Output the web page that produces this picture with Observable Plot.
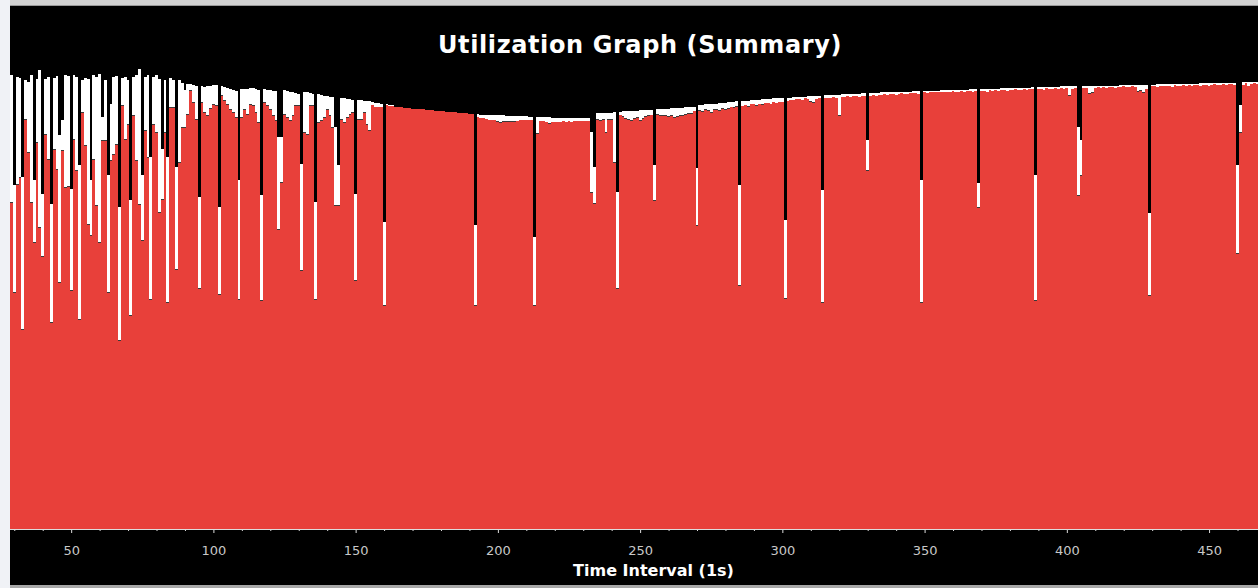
<!DOCTYPE html>
<html><head><meta charset="utf-8">
<script src="https://cdn.jsdelivr.net/npm/d3@7"></script>
<script src="https://cdn.jsdelivr.net/npm/@observablehq/plot@0.6"></script>
<style>
html,body{margin:0;padding:0;overflow:hidden;background:#f0f2f6;width:1258px;height:588px;}
#frame{position:absolute;left:10px;top:0;width:1248px;height:588px;background:#000;overflow:hidden;}
#topband{position:absolute;left:0;top:0;width:1248px;height:5px;background:#d2d2d2;border-bottom:1px solid #9a9a9a;}
#botband{position:absolute;left:0;top:585px;width:1248px;height:3px;background:#a8a8a8;}
#title{position:absolute;left:12px;top:30px;width:1236px;text-align:center;color:#fff;font-family:"DejaVu Sans";font-weight:bold;font-size:24px;line-height:30px;letter-spacing:0.6px;}
#chart{position:absolute;left:0;top:66px;}
</style></head>
<body>
<div id="frame">
  <div id="topband"></div>
  <div id="title">Utilization Graph (Summary)</div>
  <div id="chart"></div>
  <div id="botband"></div>
</div>
<script>
// first time interval (s) of the arrays below; one value per second
const firstSecond = 29;
// top of stacked column (red + white), percent
const totalPct = [
98.7,74.8,98.3,98.0,76.5,97.6,97.2,98.7,75.9,97.8,
99.8,72.8,97.8,98.3,70.7,98.0,98.5,85.7,88.9,98.7,
98.5,73.9,98.7,98.3,79.1,97.6,98.0,97.8,75.9,98.7,
98.3,98.9,89.6,97.6,77.0,92.4,98.3,98.5,70.0,98.0,
98.3,97.6,71.5,98.3,98.7,100.0,77.0,98.3,98.7,80.9,
98.3,98.7,97.8,82.6,97.6,80.9,98.0,97.6,78.7,97.6,
97.0,95.4,96.7,96.7,96.5,96.3,72.2,96.3,96.1,96.3,
96.3,96.5,96.5,70.0,96.3,96.1,95.9,95.7,95.4,95.2,
75.9,95.7,95.7,95.7,95.9,95.9,95.7,95.4,72.6,95.7,
95.4,95.4,95.2,95.2,85.2,85.2,95.4,95.2,95.0,95.0,
94.8,94.6,79.3,95.0,95.0,94.8,94.6,71.1,94.6,94.3,
94.1,94.1,93.9,93.9,87.4,79.1,93.7,93.7,93.5,93.5,
93.3,72.8,93.3,93.3,93.0,93.0,93.0,92.8,92.6,92.6,
92.4,66.7,92.4,92.2,92.2,
91.8,91.7,91.7,91.6,91.6,91.5,91.4,91.4,91.3,91.2,91.2,91.1,91.0,91.0,90.9,90.9,90.8,90.8,90.7,90.7,90.6,90.6,90.5,90.5,90.4,90.4,90.3,90.3,
66.1,
90.2,90.1,90.1,90.0,90.0,90.0,89.9,89.9,89.9,89.9,89.8,89.8,89.8,89.8,89.7,89.7,89.7,89.7,89.6,89.6,
63.5,
89.6,
89.5,89.5,89.5,89.5,89.4,89.4,89.4,89.4,89.4,89.4,89.4,89.4,89.4,89.4,89.4,89.4,89.4,89.4,
86.4,78.7,
90.4,90.4,90.4,90.5,90.5,90.5,90.6,
73.3,
90.7,90.8,90.8,90.8,90.9,90.9,90.9,91.0,91.0,91.0,91.1,91.1,
79.1,
91.3,91.3,91.4,91.4,91.4,91.5,91.5,91.5,91.6,91.6,91.7,91.7,91.7,91.8,
78.5,
92.2,92.2,92.3,92.4,92.4,92.5,92.5,92.6,92.7,92.7,92.8,92.8,92.9,93.0,
74.8,
93.0,93.1,93.1,93.2,93.2,93.3,93.3,93.4,93.4,93.5,93.5,93.6,93.6,93.7,93.7,
67.2,
93.8,93.8,93.9,93.9,94.0,94.0,94.0,94.1,94.1,94.1,94.2,94.2,
73.7,
94.3,94.3,94.3,94.4,94.4,94.4,94.5,94.5,94.5,94.5,94.6,94.6,94.6,94.7,94.7,
84.6,94.8,
94.8,94.8,94.8,94.9,94.9,94.9,95.0,95.0,95.0,95.0,95.1,95.1,95.1,95.1,95.2,95.2,95.2,
75.9,
95.2,95.2,95.3,95.3,95.3,95.3,95.4,95.4,95.4,95.4,95.4,95.5,95.5,95.5,95.5,95.5,95.6,95.6,95.6,
75.2,
95.6,95.6,95.7,95.7,95.7,95.7,95.7,95.8,95.8,95.8,95.8,95.8,95.9,95.9,95.9,95.9,95.9,95.9,96.0,
77.0,
96.0,96.0,96.0,96.1,96.1,96.1,96.1,96.1,96.2,96.2,96.2,96.2,96.2,96.2,
87.4,84.6,
96.2,96.2,96.3,96.3,96.3,96.3,96.3,96.4,96.4,96.4,96.4,96.4,96.4,96.5,96.5,96.5,96.5,96.5,96.5,96.5,96.6,96.6,96.6,
68.7,
96.6,96.6,96.7,96.7,96.7,96.7,96.7,96.7,96.7,96.8,96.8,96.8,96.8,96.8,96.8,96.8,96.8,96.9,96.9,96.9,96.9,96.9,96.9,96.9,96.9,97.0,97.0,97.0,97.0,97.0,
79.1,92.2,
97.1,97.1,97.1,97.2,97.2,97.2
];
// top of the red part, percent
const redPct = [
71.1,51.5,75.0,76.5,43.5,89.1,82.0,71.1,62.4,84.1,
65.7,59.3,85.9,80.4,45.0,82.6,78.3,53.7,82.4,74.3,
74.6,52.0,84.8,78.0,45.7,90.7,83.5,66.3,63.9,80.4,
70.4,62.4,84.6,84.6,51.5,80.2,81.5,83.7,41.1,92.2,
84.8,88.0,46.5,90.0,80.2,70.7,62.8,86.7,80.9,50.0,
88.0,86.3,68.9,71.7,86.3,49.3,91.7,91.7,56.5,79.8,
87.4,87.4,90.2,95.4,92.8,89.1,52.4,92.8,90.7,90.0,
91.5,92.4,92.2,51.1,94.3,93.3,92.4,91.3,90.7,89.6,
50.0,89.6,91.3,90.2,92.4,92.2,90.7,88.5,49.8,92.8,
92.2,91.3,90.0,88.9,65.2,75.4,90.2,89.6,88.9,90.0,
92.2,92.2,56.3,86.3,85.9,92.2,92.2,50.0,88.5,88.9,
89.6,91.3,90.0,87.4,70.4,70.4,89.1,88.5,89.6,90.2,
90.7,54.1,89.1,89.1,90.7,88.0,86.7,92.2,91.7,91.7,
91.7,48.7,92.2,92.0,92.0,
91.8,91.7,91.7,91.6,91.6,91.5,91.4,91.4,91.3,91.2,91.2,91.1,91.0,91.0,90.9,90.9,90.8,90.8,90.7,90.7,90.6,90.6,90.5,90.5,90.4,90.4,90.3,90.3,
48.7,
89.6,89.4,89.4,89.1,89.0,89.0,88.9,88.7,88.5,88.7,88.7,88.6,88.7,88.6,88.7,88.9,89.0,89.0,88.9,89.0,
48.7,
86.1,
88.7,88.6,88.5,88.3,88.4,88.5,88.4,88.5,88.6,88.5,88.6,88.5,88.6,88.7,88.6,88.7,88.6,88.6,
73.3,70.9,
89.1,89.0,89.1,86.3,89.1,89.2,79.8,
52.4,
89.9,89.7,89.3,89.2,89.0,89.3,89.6,89.0,89.4,89.8,90.0,90.1,
71.5,
90.2,90.0,90.1,89.9,89.8,90.0,89.5,89.7,90.0,90.1,90.3,90.4,90.5,90.8,
66.1,
91.1,90.8,91.2,91.0,90.7,91.3,91.4,91.1,91.5,91.3,91.6,91.8,91.7,91.9,
53.0,
92.0,92.2,91.9,92.3,92.4,92.2,92.5,92.3,92.6,92.7,92.5,92.8,92.6,92.9,92.8,
50.2,
93.1,93.3,93.2,93.4,93.5,93.3,93.6,93.4,93.0,92.9,93.5,93.6,
49.3,
93.6,93.8,93.7,93.9,93.8,90.0,94.0,93.9,94.1,94.0,94.1,94.2,94.0,94.2,94.1,
78.0,94.2,
94.3,94.1,94.4,94.3,94.5,94.4,94.6,94.5,94.4,94.6,94.7,94.5,94.6,94.8,94.7,94.8,94.6,
49.3,
94.9,94.8,95.0,94.9,95.0,95.1,95.0,94.9,95.1,95.0,95.2,95.1,95.0,95.2,95.1,95.2,95.3,95.1,95.2,
70.0,
95.2,95.3,95.1,95.4,95.3,95.4,95.2,95.5,95.4,95.3,95.5,95.4,95.6,95.5,95.4,95.6,95.5,95.6,95.7,
49.8,
95.6,95.7,95.5,95.8,95.7,95.6,95.8,95.7,95.9,95.6,95.8,94.3,95.7,95.9,
72.6,77.0,
95.9,95.8,94.8,94.9,95.9,96.0,95.8,96.0,95.9,96.1,96.0,95.9,96.1,96.0,96.2,96.1,96.0,96.2,96.1,95.2,95.4,95.1,95.6,
50.9,
96.3,96.2,96.1,96.4,96.3,96.2,96.4,96.1,96.5,96.4,96.3,96.5,96.4,96.6,96.3,96.5,96.6,96.4,96.6,96.5,96.3,96.6,96.7,96.5,96.6,96.7,96.6,96.7,96.8,96.6,
60.0,86.3,
96.5,96.9,96.3,96.8,96.9,96.7
];
const majorTicks = [50,100,150,200,250,300,350,400,450];
const minorTicks = [30,40,60,70,80,90,110,120,130,140,160,170,180,190,210,220,230,240,260,270,280,290,310,320,330,340,360,370,380,390,410,420,430,440,460];
const xLabel = "Time Interval (1s)";

const data = totalPct.map((v, i) => ({t: firstSecond + i, total: v, red: redPct[i]}));
const withWhite = data.filter(d => d.total - d.red > 0.05);
const x1 = d => d.t - 0.5, x2 = d => d.t + 0.5;

const chart = Plot.plot({
  width: 1248, height: 520,
  marginLeft: 0, marginRight: 0, marginTop: 3, marginBottom: 57,
  x: {domain: [28.5, 467.2]},
  y: {domain: [0, 100], axis: null},
  style: {background: "black", color: "#c8c8c8", fontFamily: "DejaVu Sans", fontSize: "13px", overflow: "visible"},
  marks: [
    Plot.rectY(data, {x1, x2, y1: 0, y2: "red", fill: "#e8403a", shapeRendering: "crispEdges"}),
    Plot.rectY(withWhite, {x1, x2, y1: "red", y2: "total", fill: "#ffffff", shapeRendering: "crispEdges"}),
    Plot.ruleY(data.filter(d => d.total - d.red > 1), {x1, x2, y: "red", stroke: "#3a3a3a", strokeWidth: 1, shapeRendering: "crispEdges"}),
    Plot.ruleY([0], {stroke: "#dddddd", strokeWidth: 1}),
    Plot.axisX({ticks: minorTicks, tickSize: 2, tickFormat: () => "", stroke: "#dddddd"}),
    Plot.axisX({ticks: majorTicks, tickSize: 4, tickPadding: 12, tickFormat: d => String(d), stroke: "#dddddd", fill: "#c8c8c8", label: null}),
    Plot.text([xLabel], {frameAnchor: "bottom", dx: 19, dy: 46, fill: "#ffffff", fontWeight: "bold", fontSize: 16, fontFamily: "DejaVu Sans"})
  ]
});
document.getElementById("chart").appendChild(chart);
</script>
</body></html>
